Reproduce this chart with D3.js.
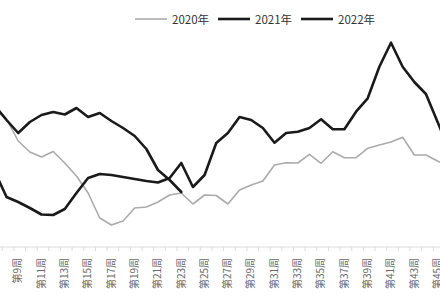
<!DOCTYPE html>
<html>
<head>
<meta charset="utf-8">
<script src="https://cdn.jsdelivr.net/npm/d3@7/dist/d3.min.js"></script>
<style>
  html, body { margin: 0; padding: 0; background: #fff; }
  svg { display: block; }
</style>
</head>
<body>
<svg id="chart" width="440" height="300"></svg>
<script>
// ---- data ----
const weeks = d3.range(7, 47); // 第7周 .. 第46周 (visible crop)
const seriesNames = ["2020年", "2021年", "2022年"];
const values2020 = [72, 65.5, 54.5, 49, 46.5, 49.25, 43.5, 37, 28.5, 16, 12.5, 14.5, 21, 21.5, 24, 27.5, 28.5, 23, 27.5, 27.25,
  23, 30, 32.5, 34.5, 42.5, 43.65, 43.5, 47.85, 43.35, 49.15, 46.15, 46.15, 50.85, 52.5, 54, 56.35, 47.5, 47.5, 44.5, 42];
const values2021 = [39, 26.5, 24, 21, 17.75, 17.5, 20.5, 28.5, 36, 38, 37.5, 36.5, 35.5, 34.5, 33.75, 36, 43.5, 31.5, 37.5, 53.5,
  58.5, 66.5, 65, 61, 53.65, 58.5, 59.15, 61, 65.35, 60.35, 60.35, 69.15, 75.85, 91.65, 103.65, 91.65, 84, 78, 64, 50];
const values2022 = [72, 65, 58.5, 64, 67.5, 69, 67.75, 71, 66.5, 68.5, 64.5, 61, 57, 50.5, 40, 35, 29]; // weeks 7..23
const tickLabels = weeks.filter(w => w % 2 === 1).map(w => "第" + w + "周");

// ---- layout ----
const svg = d3.select("#chart");
const W = 440, H = 300;
const bw = 11.65;
const x = d3.scaleBand().domain(weeks).range([-5.1 - bw / 2, -5.1 - bw / 2 + bw * weeks.length]).paddingInner(0).paddingOuter(0);
const cx = w => x(w) + x.bandwidth() / 2;
const y = d3.scaleLinear().domain([0, 125]).range([250, 0]);
const axisY = 247;

const styles = [
  { color: "#ababab", width: 1.6 },
  { color: "#1a1a1a", width: 2.6 },
  { color: "#1a1a1a", width: 2.6 }
];

const clip = svg.append("defs").append("clipPath").attr("id", "clip");
clip.append("rect").attr("x", 0).attr("y", 0).attr("width", W).attr("height", H);
const g = svg.append("g").attr("clip-path", "url(#clip)");

// axis line + ticks at band boundaries
g.append("line").attr("x1", 0).attr("x2", W).attr("y1", axisY).attr("y2", axisY)
  .attr("stroke", "#dcdcdc").attr("stroke-width", 1);
g.selectAll("line.tick").data(weeks).enter().append("line").attr("class", "tick")
  .attr("x1", d => x(d) + 1.5).attr("x2", d => x(d) + 1.5)
  .attr("y1", axisY).attr("y2", axisY + 4)
  .attr("stroke", "#dcdcdc").attr("stroke-width", 1);

// tick labels (rotated)
g.selectAll("text.tl").data(weeks.filter(w => w % 2 === 1)).enter().append("text").attr("class", "tl")
  .attr("transform", d => `translate(${cx(d) + 3.2},${axisY + 11}) rotate(-90)`)
  .attr("text-anchor", "end")
  .attr("font-family", "'Noto Sans CJK SC', 'Noto Sans', sans-serif")
  .attr("font-size", 10)
  .attr("fill", "#6a6a6a")
  .text((d, i) => tickLabels[i]);

// lines
const line = d3.line().x(d => cx(d.w)).y(d => y(d.v));
const allSeries = [values2020, values2021, values2022];
allSeries.forEach((vals, i) => {
  const pts = vals.map((v, j) => ({ w: weeks[j], v }));
  g.append("path").datum(pts)
    .attr("d", line)
    .attr("fill", "none")
    .attr("stroke", styles[i].color)
    .attr("stroke-width", styles[i].width)
    .attr("stroke-linejoin", "round")
    .attr("stroke-linecap", "round");
});

// legend
const legendX = [135, 218, 301];
const legend = svg.append("g");
seriesNames.forEach((name, i) => {
  legend.append("line").attr("x1", legendX[i]).attr("x2", legendX[i] + 32)
    .attr("y1", 19).attr("y2", 19)
    .attr("stroke", styles[i].color).attr("stroke-width", i === 0 ? 1.6 : 2.6);
  legend.append("text").attr("x", legendX[i] + 37).attr("y", 23.5)
    .attr("font-family", "'Noto Sans CJK SC', 'Noto Sans', sans-serif")
    .attr("font-size", 11.5)
    .attr("fill", "#333")
    .text(name);
});
</script>
</body>
</html>
